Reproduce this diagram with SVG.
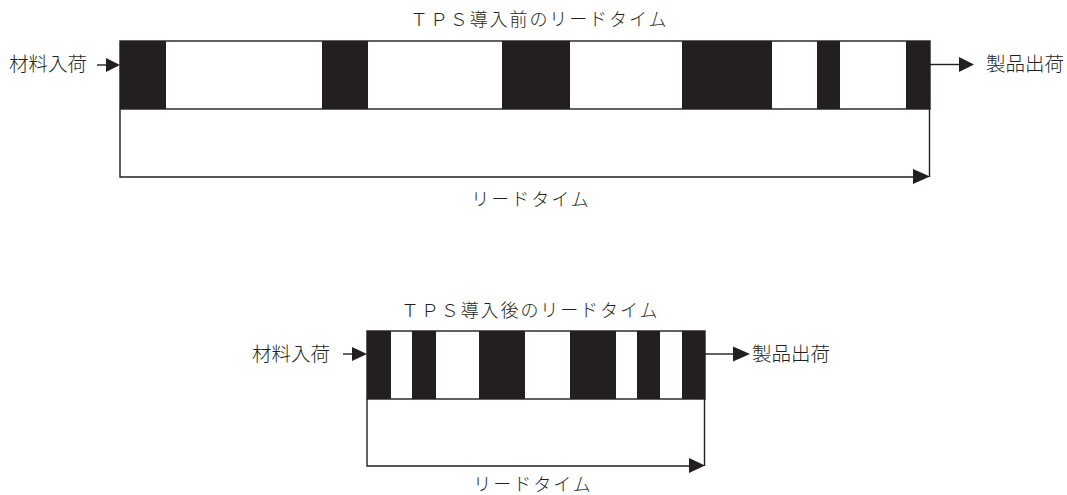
<svg xmlns="http://www.w3.org/2000/svg" width="1067" height="495" viewBox="0 0 1067 495">
  <style>
    .frame { fill: #ffffff; stroke: #231f20; stroke-width: 1.4; }
    .blk { fill: #231f20; }
    .ln { fill: none; stroke: #231f20; stroke-width: 1.4; }
    .head { fill: #231f20; }
    text { font-family: "Liberation Serif", "Noto Sans CJK JP", serif; font-weight: 300; fill: #231f20; dominant-baseline: central; }
    .lbl { font-size: 19.5px; }
    .ttl { font-size: 18px; letter-spacing: 1.9px; }
    .lt { font-size: 18px; letter-spacing: 2px; }
  </style>

  <!-- Lead time before TPS -->
  <g id="before">
    <text class="ttl" x="410" y="20">ＴＰＳ導入前のリードタイム</text>
    <g id="before-bar">
      <rect class="frame" x="120" y="41" width="810" height="68"/>
      <rect class="blk" x="120" y="41" width="46" height="68"/>
      <rect class="blk" x="322" y="41" width="46" height="68"/>
      <rect class="blk" x="502" y="41" width="68" height="68"/>
      <rect class="blk" x="682" y="41" width="90" height="68"/>
      <rect class="blk" x="817" y="41" width="23" height="68"/>
      <rect class="blk" x="906" y="41" width="24" height="68"/>
    </g>
    <g id="before-in">
      <text class="lbl" x="9" y="64">材料入荷</text>
    </g>
    <g id="before-out">
      <text class="lbl" x="986" y="64">製品出荷</text>
    </g>
    <text class="lt" x="531" y="200" text-anchor="middle">リードタイム</text>
  </g>

  <!-- Lead time after TPS -->
  <g id="after">
    <text class="ttl" x="401" y="311">ＴＰＳ導入後のリードタイム</text>
    <g id="after-bar">
      <rect class="frame" x="367" y="331" width="338" height="68"/>
      <rect class="blk" x="367" y="331" width="24" height="68"/>
      <rect class="blk" x="412" y="331" width="24" height="68"/>
      <rect class="blk" x="479" y="331" width="46" height="68"/>
      <rect class="blk" x="570" y="331" width="46" height="68"/>
      <rect class="blk" x="637" y="331" width="23" height="68"/>
      <rect class="blk" x="682" y="331" width="23" height="68"/>
    </g>
    <g id="after-in">
      <text class="lbl" x="252" y="354">材料入荷</text>
    </g>
    <g id="after-out">
      <text class="lbl" x="752" y="354">製品出荷</text>
    </g>
    <text class="lt" x="533" y="485" text-anchor="middle">リードタイム</text>
  </g>

  <!-- Connectors -->
  <g id="connectors">
    <!-- before: flow in / out -->
    <line class="ln" x1="97" y1="65" x2="108" y2="65"/>
    <polygon class="head" points="106,58 120,65 106,72"/>
    <line class="ln" x1="930" y1="64.5" x2="961" y2="64.5"/>
    <polygon class="head" points="959,57 974,64.5 959,72"/>
    <!-- before: lead time bracket -->
    <path class="ln" d="M120,109 V177 H915"/>
    <path class="ln" d="M929.5,109 V177"/>
    <polygon class="head" points="913,169 930,176.5 913,184"/>

    <!-- after: flow in / out -->
    <line class="ln" x1="343" y1="354" x2="354" y2="354"/>
    <polygon class="head" points="352,347 367,354 352,361"/>
    <line class="ln" x1="705" y1="354" x2="735" y2="354"/>
    <polygon class="head" points="733,346.5 750,354 733,361.5"/>
    <!-- after: lead time bracket -->
    <path class="ln" d="M367,399 V466 H691"/>
    <path class="ln" d="M704.5,399 V466"/>
    <polygon class="head" points="689,458 705,465.5 689,473"/>
  </g>
</svg>
